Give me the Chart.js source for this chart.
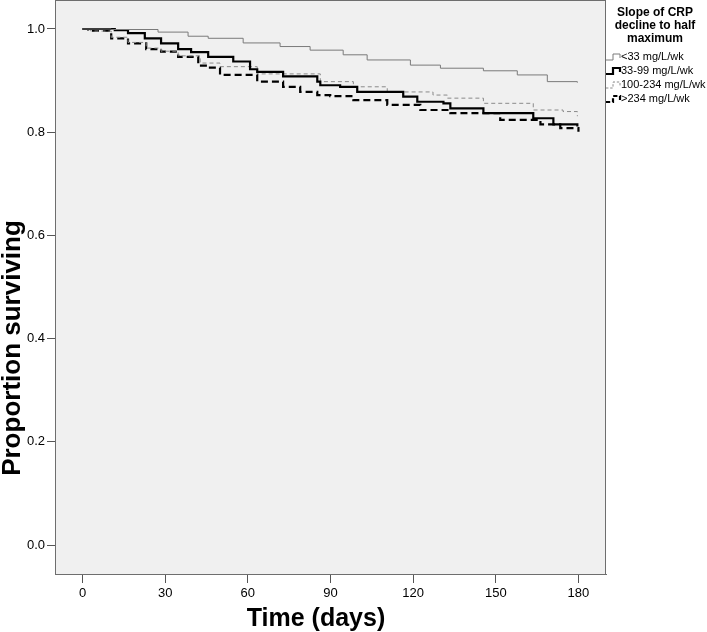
<!DOCTYPE html>
<html>
<head>
<meta charset="utf-8">
<script src="https://cdn.jsdelivr.net/npm/chart.js@4"></script>
<style>
html,body{margin:0;padding:0;background:#fff;}
#wrap{position:relative;width:707px;height:632px;}
</style>
</head>
<body>
<div id="wrap"><canvas id="c" width="707" height="632"></canvas></div>
<script>
// ---- data ----
const xTicks = [0, 30, 60, 90, 120, 150, 180];
const yTicks = [0.0, 0.2, 0.4, 0.6, 0.8, 1.0];
const seriesNames = ['<33 mg/L/wk', '33-99 mg/L/wk', '100-234 mg/L/wk', '>234 mg/L/wk'];
const legendTitle = ['Slope of CRP', 'decline to half', 'maximum'];
const xTitle = 'Time (days)';
const yTitle = 'Proportion surviving';

const daysA = [0, 10.4, 27.4, 38.3, 45.6, 58.3, 71.7, 82.6, 94.6, 103.3, 119, 129.9, 145.5, 157.8, 168.7, 179.6];
const survA = [1.0, 0.999, 0.994, 0.986, 0.982, 0.973, 0.966, 0.959, 0.950, 0.940, 0.930, 0.924, 0.919, 0.911, 0.898, 0.896];

const daysB = [0, 11.7, 16.5, 22.6, 28.5, 34.7, 39.4, 45.6, 54.7, 60.8, 63.4, 72.8, 85.2, 86.3, 93.5, 99.7, 116.4, 121.5, 131, 133.5, 145.5, 163.6, 170.9, 179.6];
const survB = [1.0, 0.998, 0.992, 0.982, 0.972, 0.961, 0.955, 0.946, 0.937, 0.922, 0.917, 0.908, 0.898, 0.891, 0.888, 0.878, 0.869, 0.859, 0.856, 0.846, 0.837, 0.827, 0.815, 0.811];

const daysC = [0, 3, 10.4, 16.5, 23.1, 28.5, 34.7, 42.7, 49.9, 63.4, 86.3, 98.3, 110.6, 127.2, 132.4, 145.5, 163.6, 174.4, 179.6];
const survC = [1.0, 0.996, 0.984, 0.974, 0.963, 0.957, 0.948, 0.934, 0.927, 0.913, 0.898, 0.888, 0.878, 0.872, 0.866, 0.856, 0.843, 0.840, 0.831];

const daysD = [0, 2, 10.4, 16.5, 23.1, 28.5, 34.7, 42, 45.6, 49.9, 63.4, 72.8, 79, 85.2, 89.9, 98.3, 110.6, 122.6, 133.5, 151.6, 166.2, 173.4, 180];
const survD = [1.0, 0.997, 0.982, 0.972, 0.961, 0.956, 0.946, 0.929, 0.925, 0.911, 0.898, 0.888, 0.878, 0.872, 0.870, 0.862, 0.853, 0.843, 0.837, 0.824, 0.815, 0.808, 0.801];

// ---- styles ----
const styles = [
  {color: '#7a7a7a', width: 1, dash: []},
  {color: '#000000', width: 2.2, dash: []},
  {color: '#8a8a8a', width: 1, dash: [4, 3]},
  {color: '#000000', width: 2.2, dash: [7, 4]}
];
const FONT = '"Liberation Sans", Arial, sans-serif';

function pts(d, v) { return d.map((x, i) => ({x: x, y: v[i]})); }
const allData = [pts(daysA, survA), pts(daysB, survB), pts(daysC, survC), pts(daysD, survD)];

const datasets = allData.map((data, i) => ({
  label: seriesNames[i],
  data: data,
  showLine: true,
  stepped: 'before',
  borderColor: styles[i].color,
  borderWidth: styles[i].width,
  borderDash: styles[i].dash,
  pointRadius: 0,
  fill: false
}));

const bgPlugin = {
  id: 'bg',
  beforeDraw(chart) {
    const {ctx, chartArea: a} = chart;
    ctx.save();
    ctx.fillStyle = '#f0f0f0';
    ctx.fillRect(a.left, a.top, a.right - a.left, a.bottom - a.top);
    ctx.restore();
  },
  afterDraw(chart) {
    const {ctx, chartArea: a} = chart;
    ctx.save();
    ctx.strokeStyle = '#6e6e6e';
    ctx.lineWidth = 1;
    ctx.strokeRect(a.left + 0.5, a.top + 0.5, a.right - a.left - 1, a.bottom - a.top);
    // axis titles
    ctx.fillStyle = '#000';
    ctx.textAlign = 'center';
    ctx.textBaseline = 'middle';
    ctx.font = 'bold 25px ' + FONT;
    ctx.fillText(xTitle, 316, 619);
    ctx.save();
    ctx.font = 'bold 26px ' + FONT;
    ctx.translate(13, 348);
    ctx.rotate(-Math.PI / 2);
    ctx.fillText(yTitle, 0, 0);
    ctx.restore();
    // legend
    const cx = 655;
    ctx.font = 'bold 12px ' + FONT;
    legendTitle.forEach((t, i) => ctx.fillText(t, cx, 13 + i * 13));
    ctx.font = '11px ' + FONT;
    ctx.textAlign = 'left';
    seriesNames.forEach((n, i) => {
      const y = 57 + i * 14;
      const s = styles[i];
      ctx.strokeStyle = s.color;
      ctx.lineWidth = s.width;
      ctx.setLineDash(s.dash.map(v => v * 0.6));
      ctx.beginPath();
      ctx.moveTo(606, y + 3);
      ctx.lineTo(613, y + 3);
      ctx.lineTo(613, y - 3);
      ctx.lineTo(620, y - 3);
      ctx.lineTo(620, y + 1);
      ctx.stroke();
      ctx.setLineDash([]);
      ctx.fillStyle = '#000';
      ctx.fillText(n, 621, y);
    });
    ctx.restore();
  }
};

new Chart(document.getElementById('c'), {
  type: 'scatter',
  data: {datasets: datasets},
  options: {
    responsive: false,
    animation: false,
    events: [],
    layout: {padding: {left: 0, right: 101, top: 0, bottom: 0}},
    plugins: {legend: {display: false}, tooltip: {enabled: false}},
    scales: {
      x: {
        type: 'linear',
        min: -10, max: 190,
        afterBuildTicks(s) { s.ticks = xTicks.map(v => ({value: v})); },
        afterFit(s) { s.height = 58; s.paddingLeft = 0; s.paddingRight = 0; },
        grid: {drawOnChartArea: false, drawTicks: true, tickLength: 9, tickColor: '#555'},
        border: {display: true, color: '#6e6e6e'},
        ticks: {color: '#000', font: {family: FONT, size: 13}, padding: 3, maxRotation: 0, callback: v => String(v)}
      },
      y: {
        type: 'linear',
        min: -0.0562, max: 1.0562,
        afterBuildTicks(s) { s.ticks = yTicks.map(v => ({value: v})); },
        afterFit(s) { s.width = 55; s.paddingTop = 0; s.paddingBottom = 0; },
        grid: {drawOnChartArea: false, drawTicks: true, tickLength: 8, tickColor: '#555'},
        border: {display: true, color: '#6e6e6e'},
        ticks: {color: '#000', font: {family: FONT, size: 13}, padding: 2, callback: v => v.toFixed(1)}
      }
    }
  },
  plugins: [bgPlugin]
});
</script>
</body>
</html>
